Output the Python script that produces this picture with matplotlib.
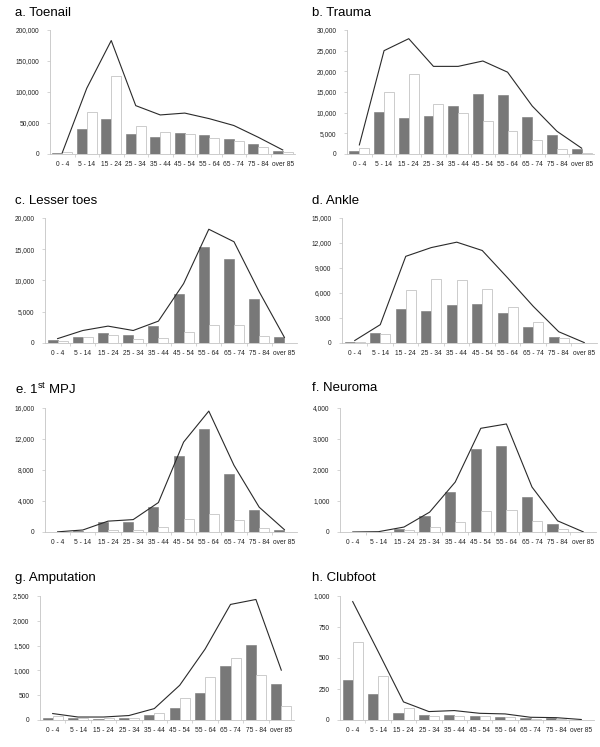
import matplotlib
matplotlib.use("Agg")
import matplotlib.pyplot as plt
import numpy as np
from matplotlib.ticker import FuncFormatter, FixedLocator

plt.rcParams['font.family'] = ['Liberation Sans', 'DejaVu Sans']
plt.rcParams['mathtext.fontset'] = 'custom'
plt.rcParams['mathtext.rm'] = 'Liberation Sans'

ages = ["0 - 4", "5 - 14", "15 - 24", "25 - 34", "35 - 44", "45 - 54",
        "55 - 64", "65 - 74", "75 - 84", "over 85"]

# a. Toenail
toenail_m = [1000, 41000, 57000, 32000, 27500, 34000, 31000, 25000, 16000, 5000]
toenail_f = [3000, 67500, 126000, 45000, 35000, 32000, 26000, 20500, 11000, 3000]
toenail_t = [2000, 106000, 183000, 78000, 63000, 66000, 57000, 46000, 27000, 6500]
# b. Trauma
trauma_m = [800, 10100, 8600, 9300, 11500, 14500, 14300, 8900, 4500, 1100]
trauma_f = [1450, 15000, 19300, 12000, 9800, 7900, 5500, 3300, 1100, 250]
trauma_t = [2200, 25000, 27900, 21200, 21200, 22500, 19800, 11600, 5500, 1400]
# c. Lesser toes
lesser_m = [400, 1000, 1600, 1300, 2700, 7900, 15300, 13500, 7100, 900]
lesser_f = [300, 1000, 1200, 700, 800, 1800, 2950, 2800, 1100, 50]
lesser_t = [700, 2000, 2700, 2000, 3500, 9500, 18200, 16200, 8200, 900]
# d. Ankle
ankle_m = [150, 1150, 4070, 3800, 4550, 4680, 3550, 1970, 680, 0]
ankle_f = [120, 1050, 6370, 7700, 7580, 6500, 4270, 2460, 650, 20]
ankle_t = [300, 2200, 10400, 11450, 12100, 11100, 7800, 4400, 1350, 50]
# e. 1st MPJ
mpj_m = [0, 100, 1250, 1300, 3200, 9870, 13350, 7470, 2800, 260]
mpj_f = [20, 50, 250, 250, 700, 1700, 2350, 1600, 500, 50]
mpj_t = [20, 260, 1400, 1600, 3800, 11600, 15600, 8600, 3200, 300]
# f. Neuroma
neuroma_m = [0, 5, 110, 515, 1300, 2680, 2790, 1115, 260, 0]
neuroma_f = [0, 5, 55, 160, 320, 690, 720, 355, 105, 0]
neuroma_t = [0, 10, 160, 640, 1610, 3345, 3485, 1450, 360, 5]
# g. Amputation
amput_m = [50, 35, 25, 40, 100, 250, 545, 1085, 1515, 730]
amput_f = [85, 35, 40, 50, 135, 440, 875, 1240, 915, 275]
amput_t = [130, 60, 60, 90, 230, 700, 1430, 2330, 2430, 1005]
# h. Clubfoot
club_m = [325, 211, 57, 38, 43, 30, 24, 16, 15, 2]
club_f = [629, 355, 95, 32, 30, 30, 22, 10, 10, 1]
club_t = [955, 553, 146, 68, 76, 54, 49, 22, 19, 4]

panels = [
    ("a. Toenail", toenail_m, toenail_f, toenail_t, 200000, 50000, (50, 30, 295, 154), (15, 13)),
    ("b. Trauma", trauma_m, trauma_f, trauma_t, 30000, 5000, (347, 30, 594, 154), (312, 13)),
    ("c. Lesser toes", lesser_m, lesser_f, lesser_t, 20000, 5000, (45, 218, 297, 343), (15, 201)),
    ("d. Ankle", ankle_m, ankle_f, ankle_t, 15000, 3000, (342, 218, 597, 343), (312, 201)),
    (r"e. 1$^{\mathrm{st}}$ MPJ", mpj_m, mpj_f, mpj_t, 16000, 4000, (45, 408, 297, 532), (15, 389)),
    ("f. Neuroma", neuroma_m, neuroma_f, neuroma_t, 4000, 1000, (340, 408, 596, 532), (312, 388)),
    ("g. Amputation", amput_m, amput_f, amput_t, 2500, 500, (40, 596, 294, 720), (15, 578)),
    ("h. Clubfoot", club_m, club_f, club_t, 1000, 250, (340, 596, 594, 720), (312, 578)),
]

W, H = 600, 747
fig = plt.figure(figsize=(W / 100, H / 100), dpi=100)

grey = "#787878"
axis_col = "#c4c4c4"
x = np.arange(len(ages))

for title, m, f, t, ymax, step, box, tpos in panels:
    l, top, r, b = box
    ax = fig.add_axes([l / W, 1 - b / H, (r - l) / W, (b - top) / H])
    ax.bar(x - 0.2, m, width=0.4, color=grey, edgecolor=grey, linewidth=0.4)
    ax.bar(x + 0.2, f, width=0.4, color="white", edgecolor=axis_col, linewidth=0.6)
    ax.plot(x, t, color="#2a2a2a", linewidth=0.8)
    ax.set_xlim(-0.5, len(ages) - 0.5)
    ax.set_ylim(0, ymax)
    ax.set_yticks(np.arange(0, ymax + 1, step))
    ax.yaxis.set_major_formatter(FuncFormatter(lambda v, p: f"{int(v):,}"))
    ax.set_xticks(x)
    ax.set_xticklabels(ages)
    ax.xaxis.set_minor_locator(FixedLocator(x[:-1] + 0.5))
    ax.tick_params(axis='x', which='major', length=0, pad=5, labelsize=4.8, labelcolor="#222222")
    ax.tick_params(axis='x', which='minor', length=2.5, width=0.5, color=axis_col)
    ax.tick_params(axis='y', length=2.5, width=0.5, color=axis_col, pad=5,
                   labelsize=4.8, labelcolor="#222222")
    for s in ["top", "right"]:
        ax.spines[s].set_visible(False)
    for s in ["left", "bottom"]:
        ax.spines[s].set_color(axis_col)
        ax.spines[s].set_linewidth(0.6)
    fig.text(tpos[0] / W, 1 - tpos[1] / H, title, fontsize=9.5, va="center", ha="left")

fig.savefig("out.png", dpi=100)
